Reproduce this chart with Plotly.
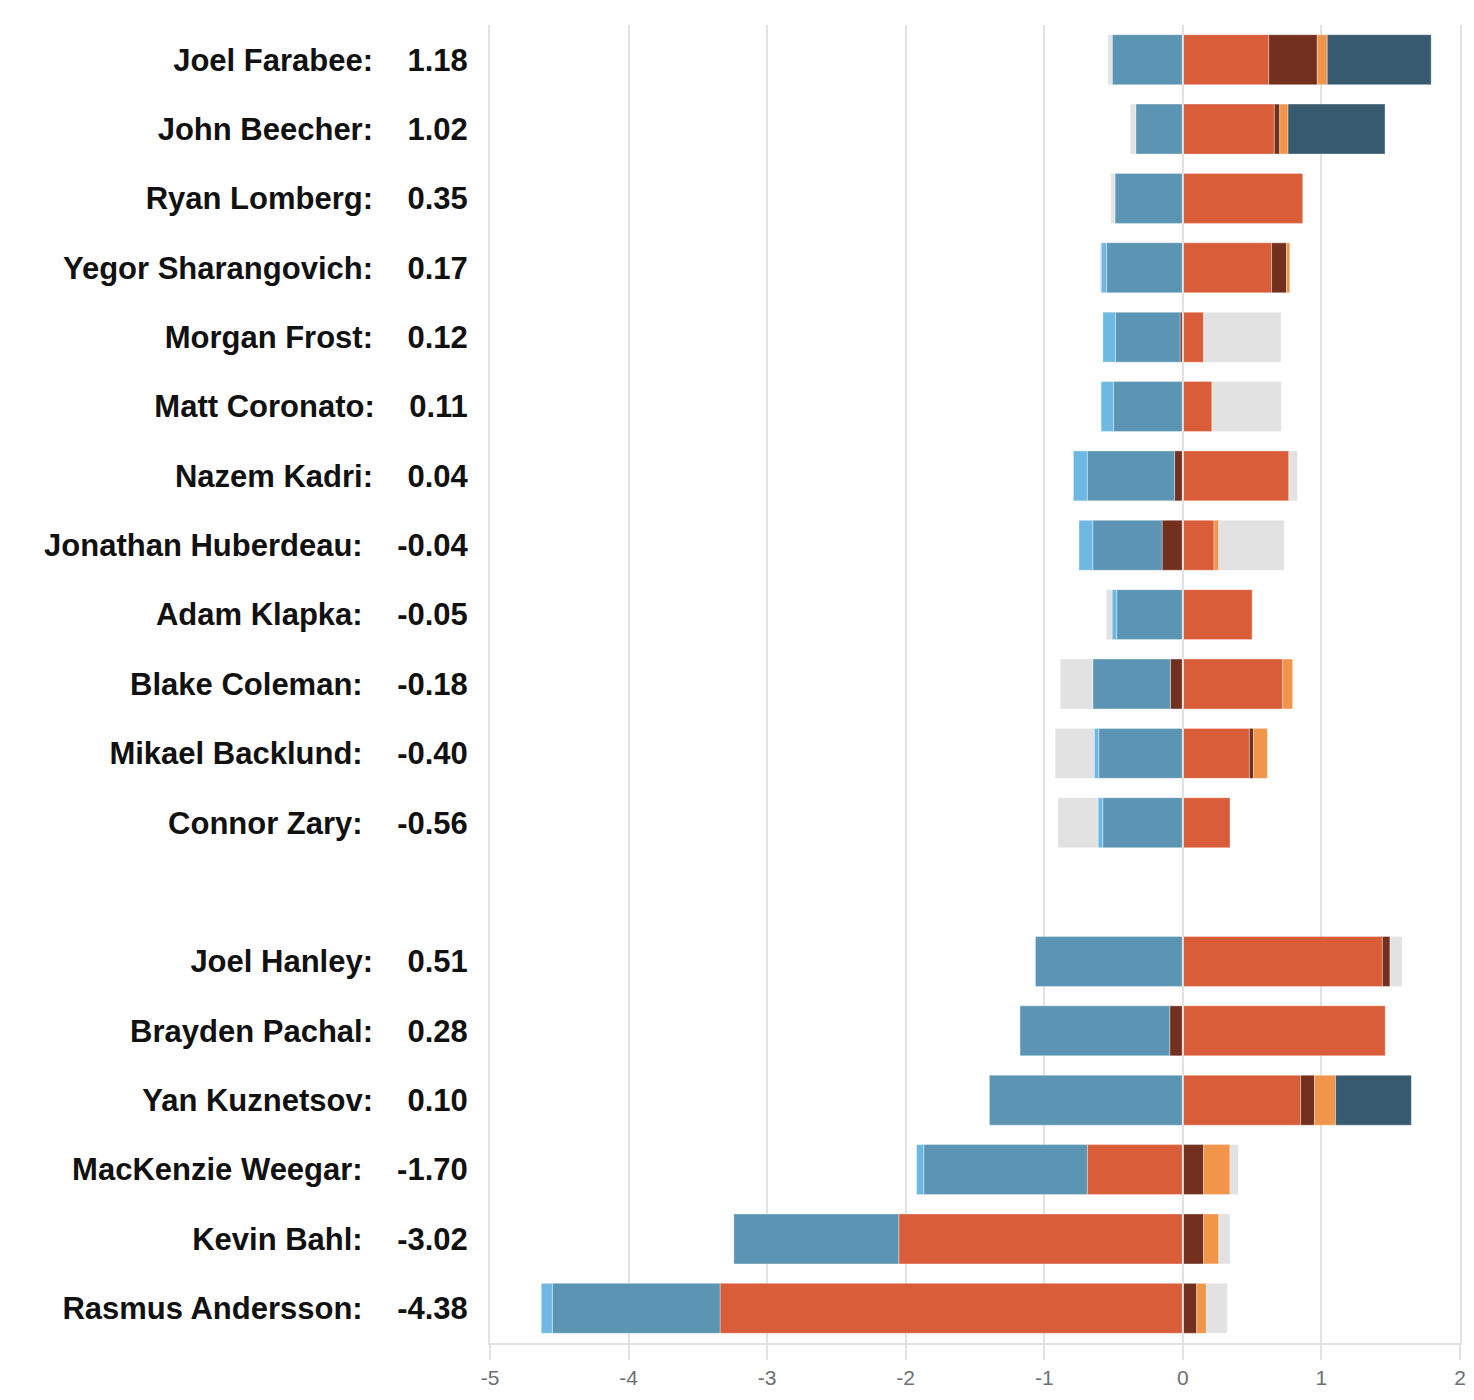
import plotly.graph_objects as go

players = ["Joel Farabee", "John Beecher", "Ryan Lomberg", "Yegor Sharangovich",
           "Morgan Frost", "Matt Coronato", "Nazem Kadri", "Jonathan Huberdeau",
           "Adam Klapka", "Blake Coleman", "Mikael Backlund", "Connor Zary",
           None,
           "Joel Hanley", "Brayden Pachal", "Yan Kuznetsov", "MacKenzie Weegar",
           "Kevin Bahl", "Rasmus Andersson"]
totals = [1.18, 1.02, 0.35, 0.17, 0.12, 0.11, 0.04, -0.04, -0.05, -0.18, -0.40, -0.56,
          None,
          0.51, 0.28, 0.10, -1.70, -3.02, -4.38]

red =       [0.62, 0.66, 0.865, 0.64, 0.15, 0.21, 0.765, 0.225, 0.50, 0.72, 0.48, 0.34, 0,
             1.44, 1.46, 0.85, -0.69, -2.05, -3.34]
brown =     [0.35, 0.039, 0, 0.108, -0.02, 0, -0.06, -0.15, 0, -0.09, 0.03, 0, 0,
             0.055, -0.095, 0.10, 0.15, 0.15, 0.10]
steel =     [-0.51, -0.34, -0.49, -0.55, -0.467, -0.50, -0.63, -0.50, -0.477, -0.56, -0.607, -0.578, 0,
             -1.064, -1.08, -1.396, -1.18, -1.19, -1.21]
lightblue = [0, 0, 0, -0.04, -0.09, -0.09, -0.10, -0.10, -0.034, 0, -0.033, -0.034, 0,
             0, 0, 0, -0.052, 0, -0.08]
orange =    [0.072, 0.06, 0, 0.024, 0, 0, 0, 0.034, 0, 0.072, 0.10, 0, 0,
             0, 0, 0.152, 0.19, 0.11, 0.07]
slate =     [0.75, 0.70, 0, 0, 0, 0, 0, 0, 0, 0, 0, 0, 0,
             0, 0, 0.547, 0, 0, 0]
gray =      [-0.03, -0.04, -0.03, -0.01, 0.558, 0.50, 0.062, 0.472, -0.041, -0.235, -0.281, -0.29, 0,
             0.087, 0, 0, 0.06, 0.08, 0.15]

x_ticks = [-5, -4, -3, -2, -1, 0, 1, 2]
x_ticklabels = ["-5", "-4", "-3", "-2", "-1", "0", "1", "2"]

series = [
    ("red", red, "#d95d39"),
    ("brown", brown, "#73301f"),
    ("steel", steel, "#5b95b3"),
    ("lightblue", lightblue, "#6db9e3"),
    ("orange", orange, "#f0954a"),
    ("slate", slate, "#385a6e"),
    ("gray", gray, "#e2e2e2"),
]

ypos = list(range(len(players)))
NB = "\u00a0"

fig = go.Figure()
for name, vals, color in series:
    fig.add_trace(go.Bar(
        y=ypos, x=[v if v else None for v in vals], orientation="h", name=name,
        marker=dict(color=color, line=dict(color="rgba(255,255,255,0.35)", width=1)),
        width=0.72, showlegend=False, hoverinfo="skip",
    ))

tickvals, ticktext = [], []
for i, (p, t) in enumerate(zip(players, totals)):
    if p is None:
        continue
    tickvals.append(i)
    ticktext.append(f"{p}:{NB*4}{t:.2f}")

fig.add_shape(type="line", x0=0, x1=0, y0=0, y1=1, xref="x", yref="paper",
              line=dict(color="#e2e2e2", width=2), layer="above")

fig.update_layout(
    width=1466, height=1392,
    margin=dict(l=482, r=8, t=17, b=57),
    barmode="relative",
    plot_bgcolor="white", paper_bgcolor="white",
    font=dict(family="Liberation Sans, Arial, sans-serif"),
)
fig.update_xaxes(
    range=[-5, 2], tickvals=x_ticks, ticktext=x_ticklabels,
    showgrid=True, gridcolor="#e2e2e2", gridwidth=2,
    zeroline=False,
    showline=True, linecolor="#e2e2e2", linewidth=2,
    ticks="outside", ticklen=15, tickwidth=2, tickcolor="#e2e2e2",
    tickfont=dict(size=21, color="#6b7075"),
)
fig.update_yaxes(
    range=[18.5, -0.5], tickvals=tickvals, ticktext=ticktext,
    showgrid=False, zeroline=False,
    showline=True, mirror=True, linecolor="#e2e2e2", linewidth=2,
    ticks="", ticklabelstandoff=14,
    tickfont=dict(size=31, color="#111111", weight="bold"),
)

fig.write_html("out.html")
